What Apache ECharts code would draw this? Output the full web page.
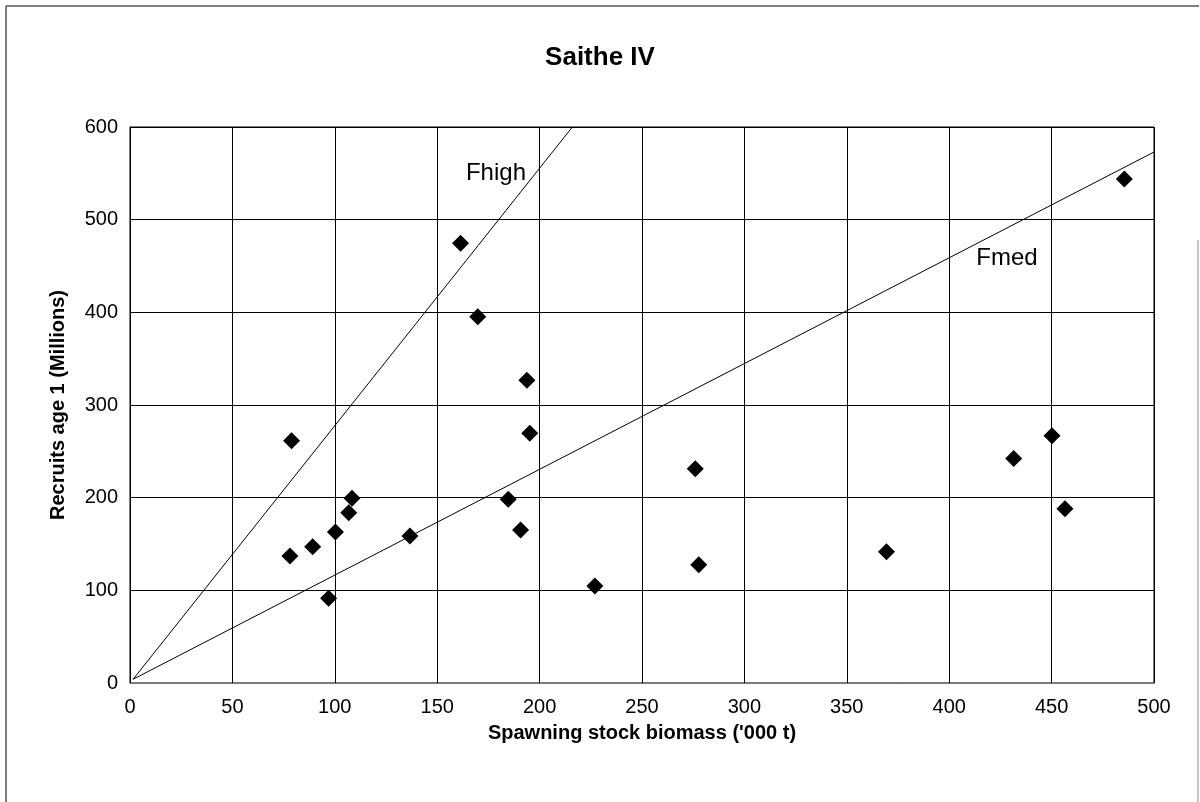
<!DOCTYPE html>
<html>
<head>
<meta charset="utf-8">
<script src="https://cdn.jsdelivr.net/npm/echarts@6/dist/echarts.min.js"></script>
<style>
html,body{margin:0;padding:0;background:#fff;}
#c{width:1200px;height:802px;}
</style>
</head>
<body>
<div id="c"></div>
<script>
// Spawning stock biomass ('000 t)
const ssb = [78.9, 78.1, 89.2, 97.0, 100.3, 106.8, 108.4, 136.7, 161.4, 169.8, 193.8, 195.2, 184.7, 190.7, 227.0, 276.0, 277.7, 369.4, 431.5, 450.2, 456.5, 485.5];
// Recruits age 1 (Millions)
const recruits = [261.5, 137.0, 147.0, 91.4, 163.0, 183.8, 199.3, 158.6, 474.5, 395.3, 326.6, 269.4, 198.2, 165.1, 104.7, 231.3, 127.7, 141.7, 242.4, 266.9, 188.1, 543.9];
// Reference lines (start and end points)
const fhighLine = [[1.5, 4], [216, 600]];
const fmedLine = [[1.5, 4], [500, 573]];
// Line labels in data coordinates
const lineLabels = [
  {name: 'Fhigh', value: [178.7, 550]},
  {name: 'Fmed', value: [428.2, 458.6]}
];
const xTicks = {min: 0, max: 500, interval: 50};
const yTicks = {min: 0, max: 600, interval: 100};

const font = 'Liberation Sans, Arial, sans-serif';
const chart = echarts.init(document.getElementById('c'), null, {renderer: 'canvas'});
const points = ssb.map((x, i) => [x, recruits[i]]);

chart.setOption({
  animation: false,
  backgroundColor: '#fff',
  title: {
    text: 'Saithe IV',
    left: 'center',
    top: 40,
    textStyle: {fontFamily: font, fontSize: 26, fontWeight: 'bold', color: '#000'}
  },
  graphic: [
    {
      type: 'line',
      shape: {x1: 6, y1: 6, x2: 1199, y2: 6},
      style: {stroke: '#555', lineWidth: 1.5},
      silent: true
    },
    {
      type: 'line',
      shape: {x1: 6, y1: 6, x2: 6, y2: 802},
      style: {stroke: '#555', lineWidth: 1.5},
      silent: true
    },
    {
      type: 'line',
      shape: {x1: 1198, y1: 240, x2: 1198, y2: 802},
      style: {stroke: '#888', lineWidth: 1},
      silent: true
    }
  ],
  grid: {left: 130, right: 46, top: 127, bottom: 119, show: true, borderColor: '#000', borderWidth: 1},
  xAxis: {
    type: 'value',
    min: xTicks.min, max: xTicks.max, interval: xTicks.interval,
    name: "Spawning stock biomass ('000 t)",
    nameLocation: 'middle',
    nameGap: 40,
    nameTextStyle: {fontFamily: font, fontSize: 20, fontWeight: 'bold', color: '#000'},
    axisLine: {show: true, lineStyle: {color: '#777', width: 1}},
    axisTick: {show: false},
    axisLabel: {fontFamily: font, fontSize: 20, color: '#000', margin: 14},
    splitLine: {show: true, lineStyle: {color: '#000', width: 1}}
  },
  yAxis: {
    type: 'value',
    min: yTicks.min, max: yTicks.max, interval: yTicks.interval,
    name: 'Recruits age 1 (Millions)',
    nameLocation: 'middle',
    nameGap: 62,
    nameTextStyle: {fontFamily: font, fontSize: 20, fontWeight: 'bold', color: '#000'},
    axisLine: {show: true, lineStyle: {color: '#000', width: 1}},
    axisTick: {show: false},
    axisLabel: {fontFamily: font, fontSize: 20, color: '#000', margin: 12},
    splitLine: {show: true, lineStyle: {color: '#000', width: 1}}
  },
  series: [
    {
      type: 'line', data: fhighLine, symbol: 'none',
      lineStyle: {color: '#000', width: 1}, silent: true
    },
    {
      type: 'line', data: fmedLine, symbol: 'none',
      lineStyle: {color: '#000', width: 1}, silent: true
    },
    {
      type: 'scatter', data: points, symbol: 'diamond', symbolSize: 17,
      itemStyle: {color: '#000', opacity: 1}, z: 5
    },
    {
      type: 'scatter', data: lineLabels, symbolSize: 1,
      itemStyle: {color: 'rgba(0,0,0,0)', opacity: 1},
      label: {
        show: true, position: 'inside', formatter: p => p.name,
        fontFamily: font, fontSize: 24, color: '#000', opacity: 1
      },
      silent: true
    }
  ]
});
</script>
</body>
</html>
